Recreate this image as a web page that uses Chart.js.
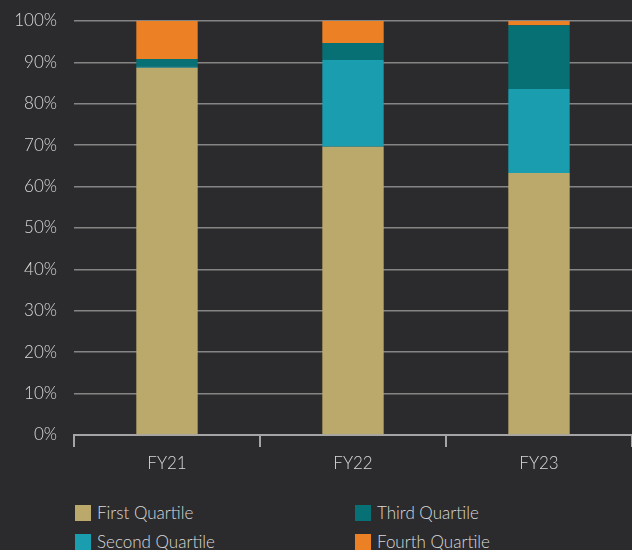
<!DOCTYPE html>
<html>
<head>
<meta charset="utf-8">
<script src="https://cdn.jsdelivr.net/npm/chart.js@4"></script>
<style>
    html, body {
        margin: 0;
        padding: 0;
        background: #2b2b2d;
        width: 632px;
        height: 550px;
        overflow: hidden;
        font-family: Lato, "Open Sans", sans-serif;
    }
    #wrap {
        position: absolute;
        left: 0;
        top: 0;
        width: 632px;
        height: 480px;
    }
    .legend-item {
        position: absolute;
        color: #d9d9d9;
        font-size: 17px;
        font-weight: 300;
        line-height: 18px;
        white-space: nowrap;
    }
    .legend-item span {
        display: inline-block;
        width: 16px;
        height: 16px;
        margin-right: 6px;
        vertical-align: -2px;
    }
</style>
</head>
<body>
<div id="wrap"><canvas id="myChart"></canvas></div>
<div id="legend"></div>
<script>
// Share of each quartile per fiscal year (percent)
const years = ['FY21', 'FY22', 'FY23'];
const firstQuartile = [88.7, 69.6, 63.3];
const secondQuartile = [0.3, 21.0, 20.3];
const thirdQuartile = [1.8, 4.1, 15.4];
const fourthQuartile = [9.2, 5.3, 1.0];
const seriesNames = ['First Quartile', 'Second Quartile', 'Third Quartile', 'Fourth Quartile'];
const seriesColors = ['#bba96c', '#1a9dae', '#077074', '#eb8025'];
const yTicks = [0, 10, 20, 30, 40, 50, 60, 70, 80, 90, 100];

const textColor = '#d9d9d9';
const tickFont = { family: 'Lato, "Open Sans", sans-serif', size: 17, weight: '300' };

function createChart() {
    const ctx = document.getElementById('myChart').getContext('2d');
    const values = [firstQuartile, secondQuartile, thirdQuartile, fourthQuartile];

    new Chart(ctx, {
        type: 'bar',
        data: {
            labels: years,
            datasets: seriesNames.map((name, i) => ({
                label: name,
                data: values[i],
                backgroundColor: seriesColors[i],
                borderWidth: 0,
                barPercentage: 0.33,
                categoryPercentage: 1
            }))
        },
        options: {
            responsive: true,
            maintainAspectRatio: false,
            animation: false,
            layout: { padding: { top: 21, right: 0, bottom: 0, left: 0 } },
            plugins: {
                legend: { display: false },
                tooltip: { enabled: false }
            },
            scales: {
                x: {
                    stacked: true,
                    grid: {
                        display: true,
                        drawOnChartArea: false,
                        drawTicks: true,
                        tickLength: 12,
                        color: '#a5a5a5',
                        lineWidth: 2
                    },
                    border: { display: true, color: '#a5a5a5', width: 2 },
                    ticks: { color: textColor, font: tickFont, padding: 6 },
                    afterFit: scale => { scale.height = 45; }
                },
                y: {
                    stacked: true,
                    min: 0,
                    max: 100,
                    afterBuildTicks: scale => {
                        scale.ticks = yTicks.map(v => ({ value: v }));
                    },
                    grid: {
                        color: ctx => ctx.tick.value === 0 ? 'rgba(0,0,0,0)' : '#858585',
                        lineWidth: 1.5,
                        drawTicks: false
                    },
                    border: { display: false },
                    ticks: {
                        color: textColor,
                        font: tickFont,
                        padding: 17,
                        callback: v => v + '%'
                    },
                    // fixed axis width; drop the extra label padding above the top tick
                    afterFit: scale => {
                        scale.width = 74;
                        scale.paddingTop = 0;
                        scale.paddingBottom = 0;
                    }
                }
            }
        }
    });
}

// Two-column legend under the chart
function buildLegend() {
    const legend = document.getElementById('legend');
    const spots = [[75, 504], [75, 533], [355, 504], [355, 533]];
    seriesNames.forEach((name, i) => {
        const item = document.createElement('div');
        item.className = 'legend-item';
        item.style.left = spots[i][0] + 'px';
        item.style.top = spots[i][1] + 'px';
        const box = document.createElement('span');
        box.style.background = seriesColors[i];
        item.appendChild(box);
        item.appendChild(document.createTextNode(name));
        legend.appendChild(item);
    });
}

window.onload = () => {
    createChart();
    buildLegend();
};
</script>
</body>
</html>
